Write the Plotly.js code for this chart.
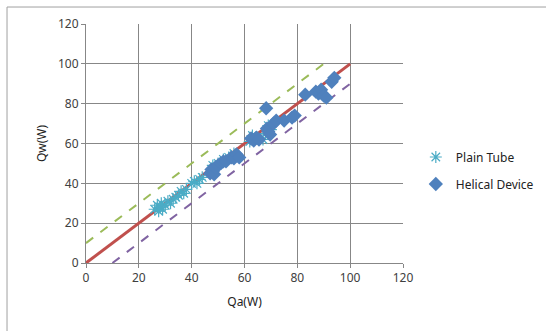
<!DOCTYPE html>
<html>
<head>
<meta charset="utf-8">
<script src="https://cdn.plot.ly/plotly-3.0.1.min.js"></script>
<style>html,body{margin:0;padding:0;background:#fff;}#chart{width:546px;height:331px;}</style>
</head>
<body>
<div id="chart"></div>
<script>
// Plain Tube data (Qa, Qw)
const plainX = [26, 27, 27.5, 28, 28.5, 29, 30, 31, 32, 33, 34, 35, 36, 37, 38, 40, 41, 42, 43, 44, 48, 50, 52, 54, 56, 62, 63, 65, 67, 68, 69, 70];
const plainY = [27, 29, 26, 28, 30, 27, 29, 31, 30, 32, 33, 34, 36, 35, 37, 40, 41, 40, 42, 43, 49, 50, 52, 53, 55, 61, 64, 63, 62, 65, 69, 67];
// Helical Device data (Qa, Qw)
const helX = [47, 47.5, 48, 48.5, 49, 50, 51, 52, 53, 55, 56, 57, 58, 62.5, 63.5, 64.5, 65.5, 68.2, 68.5, 69, 69.7, 71, 72, 75, 78, 79, 83, 87, 88, 89, 90, 91, 93, 94];
const helY = [45, 47, 46, 44.5, 48, 49, 50, 51, 51, 53, 52.5, 54.5, 53, 62.5, 61.5, 63, 62, 77.7, 67.5, 66, 64.5, 70, 71.5, 71.5, 73, 74, 84.5, 86, 85, 87, 84, 83, 91, 93];
// Reference lines
const idealX = [0, 100], idealY = [0, 100];
const upperX = [0, 90], upperY = [10, 100];
const lowerX = [10, 100], lowerY = [0, 90];
const tickVals = [0, 20, 40, 60, 80, 100, 120];

const FONT = 'Noto Sans, Liberation Sans, sans-serif';

const traces = [
  {x: idealX, y: idealY, mode: 'lines', line: {color: '#c0504d', width: 3}, showlegend: false, hoverinfo: 'skip'},
  {x: upperX, y: upperY, mode: 'lines', line: {color: '#9bbb59', width: 2, dash: 'dash'}, showlegend: false, hoverinfo: 'skip'},
  {x: lowerX, y: lowerY, mode: 'lines', line: {color: '#8064a2', width: 2, dash: 'dash'}, showlegend: false, hoverinfo: 'skip'},
  {x: plainX, y: plainY, mode: 'markers', name: 'Plain Tube', legendgroup: 'a',
   marker: {symbol: 'asterisk-open', size: 10, color: '#4bacc6', line: {color: '#4bacc6', width: 1.2}}},
  {x: helX, y: helY, mode: 'markers', name: 'Helical Device', legendgroup: 'b',
   marker: {symbol: 'diamond', size: 11, color: '#4f81bd'}}
];

const axisCommon = {
  range: [0, 120], tickvals: tickVals, ticktext: tickVals.map(String),
  showgrid: true, gridcolor: '#878787', gridwidth: 1,
  showline: true, linecolor: '#878787', linewidth: 1,
  ticks: 'outside', ticklen: 4, tickcolor: '#878787',
  zeroline: false, mirror: false,
  tickfont: {family: FONT, size: 12, color: '#404040'},
  fixedrange: true
};

const layout = {
  width: 546, height: 331,
  margin: {l: 86, r: 0, t: 24, b: 68, autoexpand: false},
  paper_bgcolor: '#ffffff', plot_bgcolor: '#ffffff',
  xaxis: Object.assign({}, axisCommon, {
    domain: [0, 317 / 460],
    title: {text: 'Qa(W)', font: {family: FONT, size: 12, color: '#222'}, standoff: 12}
  }),
  yaxis: Object.assign({}, axisCommon, {
    title: {text: 'Qw(W)', font: {family: FONT, size: 12, color: '#222'}, standoff: 8}
  }),
  legend: {x: 0.717, y: 0.387, xanchor: 'left', yanchor: 'middle',
    font: {family: FONT, size: 12, color: '#222'},
    itemwidth: 30, tracegroupgap: 8, traceorder: 'grouped', bgcolor: 'rgba(0,0,0,0)'},
  shapes: [{type: 'rect', xref: 'paper', yref: 'paper', x0: -0.1717, x1: 1.2, y0: -0.5, y1: 1.071,
    line: {color: '#a0a0a0', width: 1}, fillcolor: 'rgba(0,0,0,0)', layer: 'below'}],
  showlegend: true
};

Plotly.newPlot('chart', traces, layout, {displayModeBar: false, staticPlot: true});
</script>
</body>
</html>
